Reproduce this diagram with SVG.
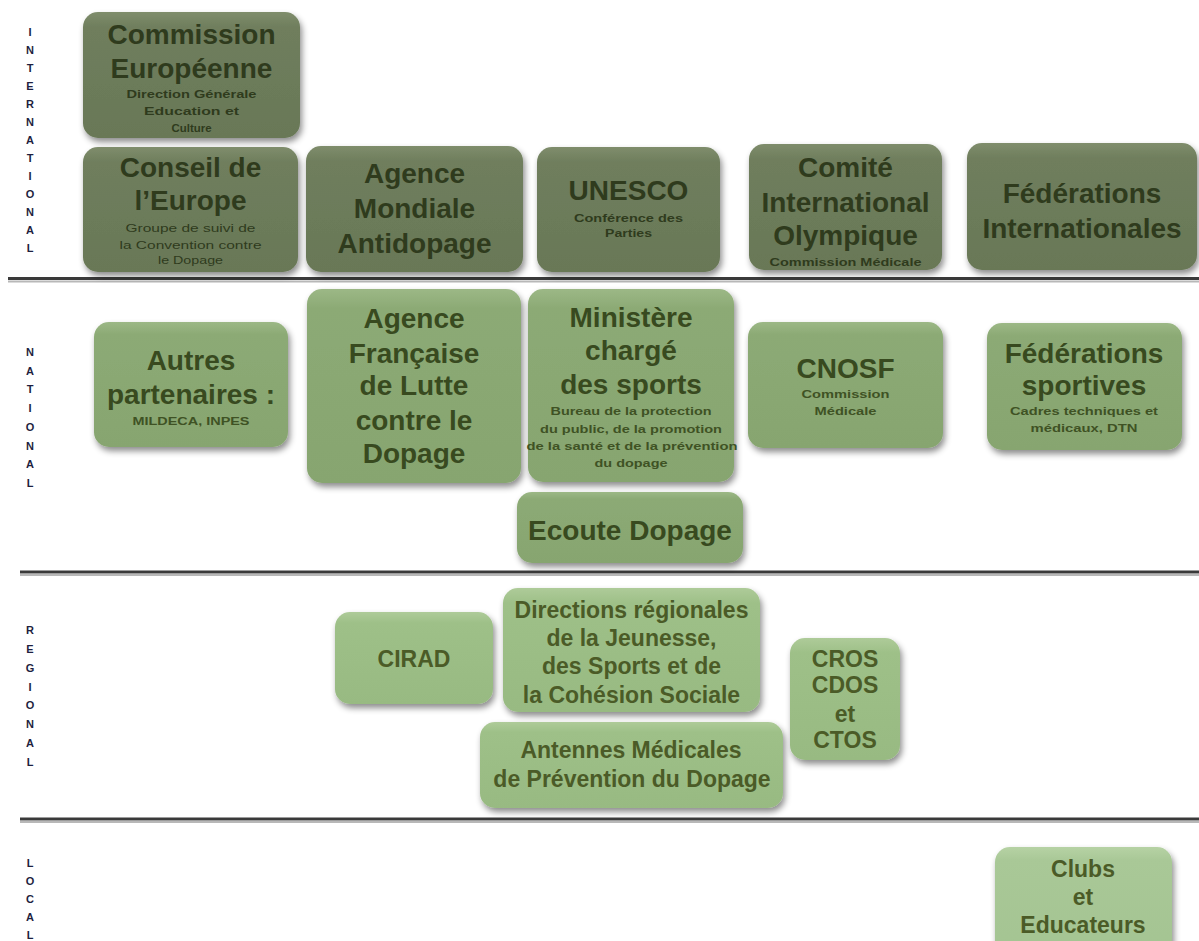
<svg xmlns="http://www.w3.org/2000/svg" width="1199" height="941" viewBox="0 0 1199 941">
<defs>
<filter id="sh" x="-10%" y="-10%" width="125%" height="130%">
<feDropShadow dx="2" dy="4" stdDeviation="3" flood-color="#000" flood-opacity="0.45"/>
</filter>
<linearGradient id="gi" x1="0" y1="0" x2="0" y2="1"><stop offset="0" stop-color="#7f8d6c"/><stop offset="0.12" stop-color="#6f7e5d"/><stop offset="1" stop-color="#697857"/></linearGradient>
<linearGradient id="gn" x1="0" y1="0" x2="0" y2="1"><stop offset="0" stop-color="#9cb886"/><stop offset="0.1" stop-color="#8caa75"/><stop offset="1" stop-color="#87a570"/></linearGradient>
<linearGradient id="gr" x1="0" y1="0" x2="0" y2="1"><stop offset="0" stop-color="#aecb99"/><stop offset="0.12" stop-color="#9ec088"/><stop offset="1" stop-color="#98ba82"/></linearGradient>
<linearGradient id="gl" x1="0" y1="0" x2="0" y2="1"><stop offset="0" stop-color="#b6d2a4"/><stop offset="0.12" stop-color="#a9c897"/><stop offset="1" stop-color="#a4c492"/></linearGradient>
<style>
.bi{fill:url(#gi);filter:url(#sh)}
.bn{fill:url(#gn);filter:url(#sh)}
.br{fill:url(#gr);filter:url(#sh)}
.bl{fill:url(#gl);filter:url(#sh)}
text{font-family:"Liberation Sans",Arial,sans-serif;text-anchor:middle}
.t{font-size:28px;font-weight:bold;fill:#2f3b1d}
.tn{font-size:28px;font-weight:bold;fill:#384a1f}
.tr{font-size:23px;font-weight:bold;fill:#4b5b27}
.s{font-size:11px;font-weight:bold;fill:#2f3b1d}
.sn{font-size:11px;font-weight:bold;fill:#3f5224}
.sl{font-size:11px;fill:#2f3b1d}
.v{font-size:11px;font-weight:bold;fill:#1e1f40}
.sep{stroke:#3a3a3a;stroke-width:3}
.seps{stroke:#b8b8b8;stroke-width:2}
</style>
</defs>
<rect width="1199" height="941" fill="#fff"/>

<g id="separators">
<line class="seps" x1="8" y1="281.5" x2="1199" y2="281.5"/>
<line class="sep" x1="8" y1="278.5" x2="1199" y2="278.5"/>
<line class="seps" x1="20" y1="575" x2="1199" y2="575"/>
<line class="sep" x1="20" y1="572" x2="1199" y2="572"/>
<line class="seps" x1="20" y1="822" x2="1199" y2="822"/>
<line class="sep" x1="20" y1="819" x2="1199" y2="819"/>
</g>

<g id="label-international" class="v">
<text class="v" x="30" y="36">I</text><text class="v" x="30" y="54">N</text><text class="v" x="30" y="72">T</text><text class="v" x="30" y="90">E</text><text class="v" x="30" y="108">R</text><text class="v" x="30" y="126">N</text><text class="v" x="30" y="144">A</text><text class="v" x="30" y="162">T</text><text class="v" x="30" y="180">I</text><text class="v" x="30" y="198">O</text><text class="v" x="30" y="216">N</text><text class="v" x="30" y="234">A</text><text class="v" x="30" y="252">L</text>
</g>
<g id="label-national">
<text class="v" x="30" y="356">N</text><text class="v" x="30" y="375">A</text><text class="v" x="30" y="393">T</text><text class="v" x="30" y="412">I</text><text class="v" x="30" y="431">O</text><text class="v" x="30" y="450">N</text><text class="v" x="30" y="468">A</text><text class="v" x="30" y="487">L</text>
</g>
<g id="label-regional">
<text class="v" x="30" y="634">R</text><text class="v" x="30" y="653">E</text><text class="v" x="30" y="672">G</text><text class="v" x="30" y="691">I</text><text class="v" x="30" y="709">O</text><text class="v" x="30" y="728">N</text><text class="v" x="30" y="747">A</text><text class="v" x="30" y="766">L</text>
</g>
<g id="label-local">
<text class="v" x="30" y="867">L</text><text class="v" x="30" y="885">O</text><text class="v" x="30" y="903">C</text><text class="v" x="30" y="921">A</text><text class="v" x="30" y="939">L</text>
</g>

<g id="commission-europeenne">
<rect class="bi" x="83" y="12" width="217" height="126" rx="15"/>
<text class="t" x="191.5" y="44">Commission</text>
<text class="t" x="191.5" y="78">Européenne</text>
<text class="s" x="191.5" y="98" textLength="130" lengthAdjust="spacingAndGlyphs">Direction Générale</text>
<text class="s" x="191.5" y="115" textLength="95" lengthAdjust="spacingAndGlyphs">Education et</text>
<text class="s" x="191.5" y="132" textLength="40" lengthAdjust="spacingAndGlyphs">Culture</text>
</g>

<g id="conseil-europe">
<rect class="bi" x="83" y="147" width="215" height="125" rx="15"/>
<text class="t" x="190.5" y="177">Conseil de</text>
<text class="t" x="190.5" y="210">l’Europe</text>
<text class="sl" x="190.5" y="232" textLength="130" lengthAdjust="spacingAndGlyphs">Groupe de suivi de</text>
<text class="sl" x="190.5" y="249" textLength="142" lengthAdjust="spacingAndGlyphs">la Convention contre</text>
<text class="sl" x="190.5" y="264" textLength="65" lengthAdjust="spacingAndGlyphs">le Dopage</text>
</g>

<g id="agence-mondiale">
<rect class="bi" x="306" y="146" width="217" height="126" rx="15"/>
<text class="t" x="414.5" y="183">Agence</text>
<text class="t" x="414.5" y="218">Mondiale</text>
<text class="t" x="414.5" y="253">Antidopage</text>
</g>

<g id="unesco">
<rect class="bi" x="537" y="147" width="183" height="125" rx="15"/>
<text class="t" x="628.5" y="200">UNESCO</text>
<text class="s" x="628.5" y="222" textLength="109" lengthAdjust="spacingAndGlyphs">Conférence des</text>
<text class="s" x="628.5" y="237" textLength="47" lengthAdjust="spacingAndGlyphs">Parties</text>
</g>

<g id="cio">
<rect class="bi" x="749" y="144" width="193" height="126" rx="15"/>
<text class="t" x="845.5" y="177">Comité</text>
<text class="t" x="845.5" y="212">International</text>
<text class="t" x="845.5" y="245">Olympique</text>
<text class="s" x="845.5" y="266" textLength="152" lengthAdjust="spacingAndGlyphs">Commission Médicale</text>
</g>

<g id="federations-internationales">
<rect class="bi" x="967" y="143" width="230" height="127" rx="15"/>
<text class="t" x="1082" y="203">Fédérations</text>
<text class="t" x="1082" y="238">Internationales</text>
</g>

<g id="autres-partenaires">
<rect class="bn" x="94" y="322" width="194" height="125" rx="15"/>
<text class="tn" x="191" y="370">Autres</text>
<text class="tn" x="191" y="404">partenaires :</text>
<text class="sn" x="191" y="425" textLength="117" lengthAdjust="spacingAndGlyphs">MILDECA, INPES</text>
</g>

<g id="afld">
<rect class="bn" x="307" y="289" width="214" height="194" rx="15"/>
<text class="tn" x="414" y="328">Agence</text>
<text class="tn" x="414" y="363">Française</text>
<text class="tn" x="414" y="395">de Lutte</text>
<text class="tn" x="414" y="430">contre le</text>
<text class="tn" x="414" y="463">Dopage</text>
</g>

<g id="ministere">
<rect class="bn" x="528" y="289" width="206" height="193" rx="15"/>
<text class="tn" x="631" y="327">Ministère</text>
<text class="tn" x="631" y="360">chargé</text>
<text class="tn" x="631" y="394">des sports</text>
<text class="sn" x="631" y="415" textLength="161" lengthAdjust="spacingAndGlyphs">Bureau de la protection</text>
<text class="sn" x="631" y="433" textLength="182" lengthAdjust="spacingAndGlyphs">du public, de la promotion</text>
<text class="sn" x="632" y="450" textLength="211" lengthAdjust="spacingAndGlyphs">de la santé et de la prévention</text>
<text class="sn" x="631" y="467" textLength="73" lengthAdjust="spacingAndGlyphs">du dopage</text>
</g>

<g id="ecoute-dopage">
<rect class="bn" x="517" y="492" width="226" height="71" rx="15"/>
<text class="tn" x="630" y="540">Ecoute Dopage</text>
</g>

<g id="cnosf">
<rect class="bn" x="748" y="322" width="195" height="126" rx="15"/>
<text class="tn" x="845.5" y="378">CNOSF</text>
<text class="sn" x="845.5" y="398" textLength="88" lengthAdjust="spacingAndGlyphs">Commission</text>
<text class="sn" x="845.5" y="415" textLength="62" lengthAdjust="spacingAndGlyphs">Médicale</text>
</g>

<g id="federations-sportives">
<rect class="bn" x="987" y="323" width="195" height="127" rx="15"/>
<text class="tn" x="1084" y="363">Fédérations</text>
<text class="tn" x="1084" y="395">sportives</text>
<text class="sn" x="1084" y="415" textLength="148" lengthAdjust="spacingAndGlyphs">Cadres techniques et</text>
<text class="sn" x="1084" y="432" textLength="107" lengthAdjust="spacingAndGlyphs">médicaux, DTN</text>
</g>

<g id="cirad">
<rect class="br" x="335" y="612" width="158" height="92" rx="15"/>
<text class="tr" x="414" y="667">CIRAD</text>
</g>

<g id="directions-regionales">
<rect class="br" x="503" y="588" width="257" height="124" rx="15"/>
<text class="tr" x="631.5" y="618">Directions régionales</text>
<text class="tr" x="631.5" y="646">de la Jeunesse,</text>
<text class="tr" x="631.5" y="674">des Sports et de</text>
<text class="tr" x="631.5" y="703">la Cohésion Sociale</text>
</g>

<g id="antennes-medicales">
<rect class="br" x="480" y="722" width="303" height="86" rx="15"/>
<text class="tr" x="631" y="758">Antennes Médicales</text>
<text class="tr" x="632" y="787">de Prévention du Dopage</text>
</g>

<g id="cros">
<rect class="br" x="790" y="638" width="110" height="122" rx="15"/>
<text class="tr" x="845" y="667">CROS</text>
<text class="tr" x="845" y="693">CDOS</text>
<text class="tr" x="845" y="722">et</text>
<text class="tr" x="845" y="748">CTOS</text>
</g>

<g id="clubs">
<rect class="bl" x="995" y="847" width="177" height="110" rx="15"/>
<text class="tr" x="1083" y="877">Clubs</text>
<text class="tr" x="1083" y="905">et</text>
<text class="tr" x="1083" y="933">Educateurs</text>
</g>

<g id="connectors"/>
</svg>
